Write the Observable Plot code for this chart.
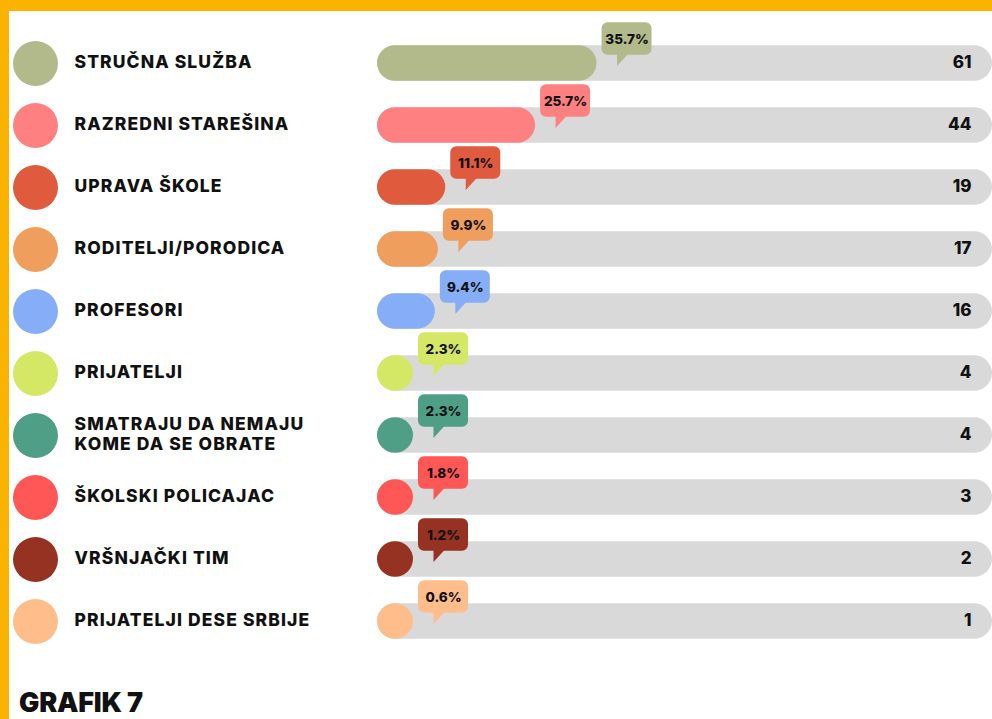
<!DOCTYPE html>
<html>
<head>
<meta charset="utf-8">
<script src="https://cdn.jsdelivr.net/npm/d3@7"></script>
<script src="https://cdn.jsdelivr.net/npm/@observablehq/plot@0.6"></script>
<style>
  html, body { margin: 0; padding: 0; width: 992px; height: 719px; overflow: hidden; background: #F9B300; }
  #card { position: absolute; left: 9px; top: 11px; right: 0; bottom: 0; background: #ffffff; }
  #chart { position: absolute; left: 0; top: 0; }
  #title { position: absolute; left: 19px; top: 689px; font-family: Inter, sans-serif; font-weight: 900; font-size: 27px; line-height: 27px; color: #111; letter-spacing: -0.2px; }
</style>
</head>
<body>
<div id="card"></div>
<div id="chart"></div>
<div id="title">GRAFIK 7</div>
<script>
const categories = [
  "STRUČNA SLUŽBA",
  "RAZREDNI STAREŠINA",
  "UPRAVA ŠKOLE",
  "RODITELJI/PORODICA",
  "PROFESORI",
  "PRIJATELJI",
  "SMATRAJU DA NEMAJU\nKOME DA SE OBRATE",
  "ŠKOLSKI POLICAJAC",
  "VRŠNJAČKI TIM",
  "PRIJATELJI DESE SRBIJE"
];
const counts = [61, 44, 19, 17, 16, 4, 4, 3, 2, 1];
const percents = [35.7, 25.7, 11.1, 9.9, 9.4, 2.3, 2.3, 1.8, 1.2, 0.6];
const percentLabels = ["35.7%", "25.7%", "11.1%", "9.9%", "9.4%", "2.3%", "2.3%", "1.8%", "1.2%", "0.6%"];
const colors = ["#B2BA8B", "#FF8080", "#E05A3E", "#EF9E5E", "#86AEF8", "#D5E866", "#4E9F86", "#FF5656", "#963222", "#FFBD8B"];

const rows = categories.map((c, i) => ({
  cat: c, count: counts[i], pct: percents[i], label: percentLabels[i], color: colors[i]
}));

const trackStart = 377, trackEnd = 992, barH = 36;
const minPct = barH / (trackEnd - trackStart) * 100;
const end = d => Math.max(d.pct, minPct);

const tail = {
  draw(ctx) {
    ctx.moveTo(0, -1);
    ctx.lineTo(11, -1);
    ctx.lineTo(0, 11);
    ctx.closePath();
  }
};

const font = "Inter, 'Open Sans', sans-serif";

const chart = Plot.plot({
  width: 992,
  height: 680,
  margin: 0,
  style: { background: "transparent", fontFamily: font },
  x: { domain: [0, 100], range: [trackStart, trackEnd], axis: null },
  y: { type: "band", domain: categories, range: [29.75, 654.75], padding: 0, axis: null },
  color: { type: "identity" },
  marks: [
    Plot.barX(rows, { x1: 0, x2: 100, y: "cat", fill: "#D9D9D9", rx: 18, insetTop: 13.25, insetBottom: 13.25 }),
    Plot.barX(rows, { x1: 0, x2: end, y: "cat", fill: "color", rx: 18, insetTop: 13.25, insetBottom: 13.25 }),
    Plot.text(rows, { x: 100, y: "cat", text: d => String(d.count), textAnchor: "end", dx: -21, dy: -1, fontSize: 17, fontWeight: 800, fill: "#111", fontFamily: font }),
    Plot.dot(rows, { y: "cat", frameAnchor: "left", dx: 35, r: 22.5, fill: "color" }),
    Plot.text(rows, { y: "cat", text: "cat", frameAnchor: "left", textAnchor: "start", dx: 74, dy: -2, fontSize: 17.5, fontWeight: 800, lineHeight: 1.12, fill: "#111", fontFamily: font }),
    Plot.barX(rows, { x1: end, x2: end, y: "cat", fill: "color", insetLeft: 5, insetRight: -55, dy: -9.75, insetTop: 0, insetBottom: 29.5, rx: 6 }),
    Plot.dot(rows, { x: end, y: "cat", dx: 20, dy: -8.5, fill: "color", symbol: tail, r: 4 }),
    Plot.text(rows, { x: end, y: "cat", dx: 30, dy: -24, text: "label", fontSize: 13.5, fontWeight: 800, fill: "#111", fontFamily: font })
  ]
});
// letter spacing for category labels (Plot text has no letterSpacing option)
chart.querySelectorAll("g[aria-label='text']").forEach((g, i) => { if (i === 1) g.setAttribute("letter-spacing", "1.1"); });
document.getElementById("chart").appendChild(chart);
</script>
</body>
</html>
